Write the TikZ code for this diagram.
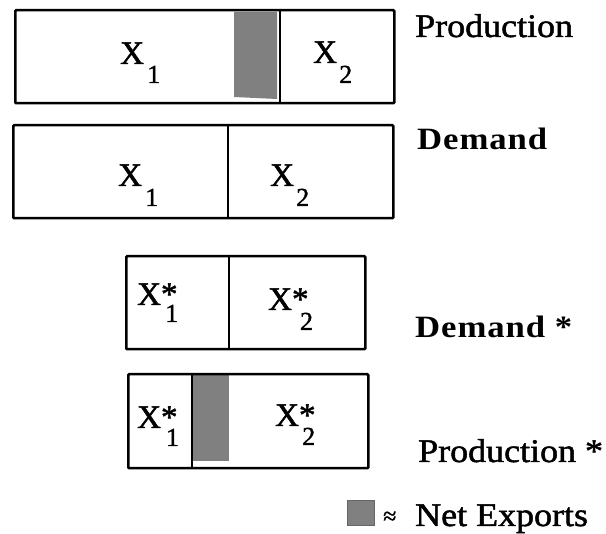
\documentclass[tikz,border=0pt]{standalone}
\usepackage{fontspec}
\setmainfont{Liberation Serif}[FakeBold=1.5]
\newfontfamily\lblfont{Liberation Serif}[FakeStretch=1.09,FakeBold=1.5]
\newfontfamily\demfont{Liberation Serif}[FakeStretch=1.12,LetterSpace=3]
\definecolor{netgray}{HTML}{808080}
\newcommand\xsym[4]{X\rlap{#4}\hspace{#1}\raisebox{#2}{\fontsize{26}{26}\selectfont #3}}
\begin{document}
\begin{tikzpicture}[x=1pt,y=-1pt,
  box/.style={draw, line width=2.5pt, rounded corners=1pt, anchor=north west, inner sep=0pt},
  divline/.style={line width=2.3pt},
  net/.style={fill=netgray},
  bigx/.style={inner sep=0pt, anchor=base west, font=\fontsize{33}{33}\selectfont},
  lbl/.style={inner sep=0pt, anchor=base west, font=\lblfont\fontsize{33}{33}\selectfont},
  dlbl/.style={inner sep=0pt, anchor=base west, font=\demfont\bfseries\fontsize{31}{31}\selectfont}]
\useasboundingbox (0,0) rectangle (606,534);
% net export shadings
\fill[net] (234,12) -- (277,12) -- (277,99) -- (234,97) -- cycle;
\fill[net] (193,375) rectangle (229,461);
% boxes
\node[box, minimum width=379pt, minimum height=93pt] (prod) at (14,9) {};
\draw[divline] (280,9) -- (280,104);
\node[box, minimum width=380pt, minimum height=93pt] (dem) at (12,124) {};
\draw[divline] (228,124) -- (228,217);
\node[box, minimum width=239pt, minimum height=93pt] (demS) at (125,255) {};
\draw[divline] (229,255) -- (229,348);
\node[box, minimum width=240pt, minimum height=94pt] (prodS) at (127,373) {};
\draw[divline] (192,373) -- (192,467);
% box texts
\node[bigx] (p1) at (120,64) {\xsym{3.2pt}{-19pt}{1}{}};
\node[bigx] (p2) at (313,63) {\xsym{2.2pt}{-20pt}{2}{}};
\node[bigx] (d1) at (118,186) {\xsym{3.2pt}{-20pt}{1}{}};
\node[bigx] (d2) at (270,186) {\xsym{2.2pt}{-20pt}{2}{}};
\node[bigx] (e1) at (137,305) {\xsym{4.2pt}{-17pt}{1}{*}};
\node[bigx] (e2) at (268,310) {\xsym{8pt}{-20pt}{2}{*}};
\node[bigx] (f1) at (137,428) {\xsym{5pt}{-18pt}{1}{*}};
\node[bigx] (f2) at (275,426) {\xsym{3.2pt}{-19pt}{2}{*}};
% labels
\node[lbl] (lprod) at (415,37) {Production};
\node[dlbl] (ldem) at (417,150) {Demand};
\node[dlbl] (ldemS) at (415,338) {Demand *};
\node[lbl] (lprodS) at (418,462) {Production *};
% legend
\node[draw=netgray!80!black, fill=netgray, line width=0.8pt, anchor=north west, minimum width=27pt, minimum height=25pt, inner sep=0pt] (leg) at (347,500) {};
\node[inner sep=0pt, anchor=base west, font=\fontsize{24}{24}\selectfont] (approx) at (383,524) {≈};
\node[lbl] (lnet) at (415,526) {Net Exports};
\end{tikzpicture}
\end{document}
